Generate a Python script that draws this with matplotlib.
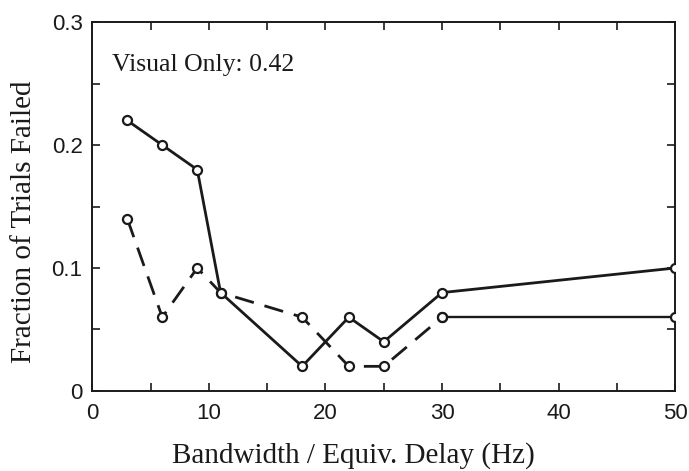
import matplotlib
matplotlib.use("Agg")
import matplotlib.pyplot as plt
from matplotlib.ticker import MultipleLocator

# bandwidth / equivalent delay (Hz)
bandwidth = [3, 6, 9, 11, 18, 22, 25, 30, 50]
# fraction of trials failed
solid_vals = [0.22, 0.20, 0.18, 0.08, 0.02, 0.06, 0.04, 0.08, 0.10]
dashed_vals = [0.14, 0.06, 0.10, 0.08, 0.06, 0.02, 0.02, 0.06, 0.06]

xticks = [0, 10, 20, 30, 40, 50]
yticks = [0, 0.1, 0.2, 0.3]
ytick_labels = ["0", "0.1", "0.2", "0.3"]
note = "Visual Only: 0.42"

ink = "#1a1a1a"
serif = "Liberation Serif"
sans = "Liberation Sans"

fig = plt.figure(figsize=(6.89, 4.71), dpi=100)
ax = fig.add_axes([0.134, 0.170, 0.846, 0.783])

mk = dict(marker="o", markersize=6.5, markerfacecolor="white",
          markeredgecolor=ink, markeredgewidth=1.6)

ax.plot(bandwidth, solid_vals, color=ink, lw=2.0, **mk, zorder=3)
# dashed condition: dashed up to 30 Hz, last segment drawn solid as in the original
ax.plot(bandwidth[:-1], dashed_vals[:-1], color=ink, lw=2.0,
        dashes=(7, 4), **mk, zorder=3)
ax.plot(bandwidth[-2:], dashed_vals[-2:], color=ink, lw=1.7, **mk, zorder=3)

ax.set_xlim(0, 50)
ax.set_ylim(0, 0.3)
ax.set_xticks(xticks)
ax.xaxis.set_minor_locator(MultipleLocator(5))
ax.set_yticks(yticks)
ax.set_yticklabels(ytick_labels)
ax.yaxis.set_minor_locator(MultipleLocator(0.05))

ax.tick_params(which="both", direction="in", top=True, right=True,
               color=ink, width=1.2, length=6)
ax.tick_params(which="major", labelsize=16, labelcolor=ink)
ax.tick_params(axis="x", which="major", pad=9)
ax.tick_params(axis="y", which="major", pad=7)
for lab in ax.get_xticklabels() + ax.get_yticklabels():
    lab.set_family(sans)
for sp in ax.spines.values():
    sp.set_color(ink)
    sp.set_linewidth(1.4)

ax.set_xlabel("Bandwidth / Equiv. Delay (Hz)", family=serif, fontsize=21,
              color=ink)
ax.xaxis.set_label_coords(0.447, -0.14)
ax.set_ylabel("Fraction of Trials Failed", family=serif, fontsize=21,
              color=ink)
ax.yaxis.set_label_coords(-0.095, 0.46)
ax.text(1.7, 0.265, note, family=serif, fontsize=18.5, color=ink, va="center")

fig.savefig("out.png", dpi=100)
